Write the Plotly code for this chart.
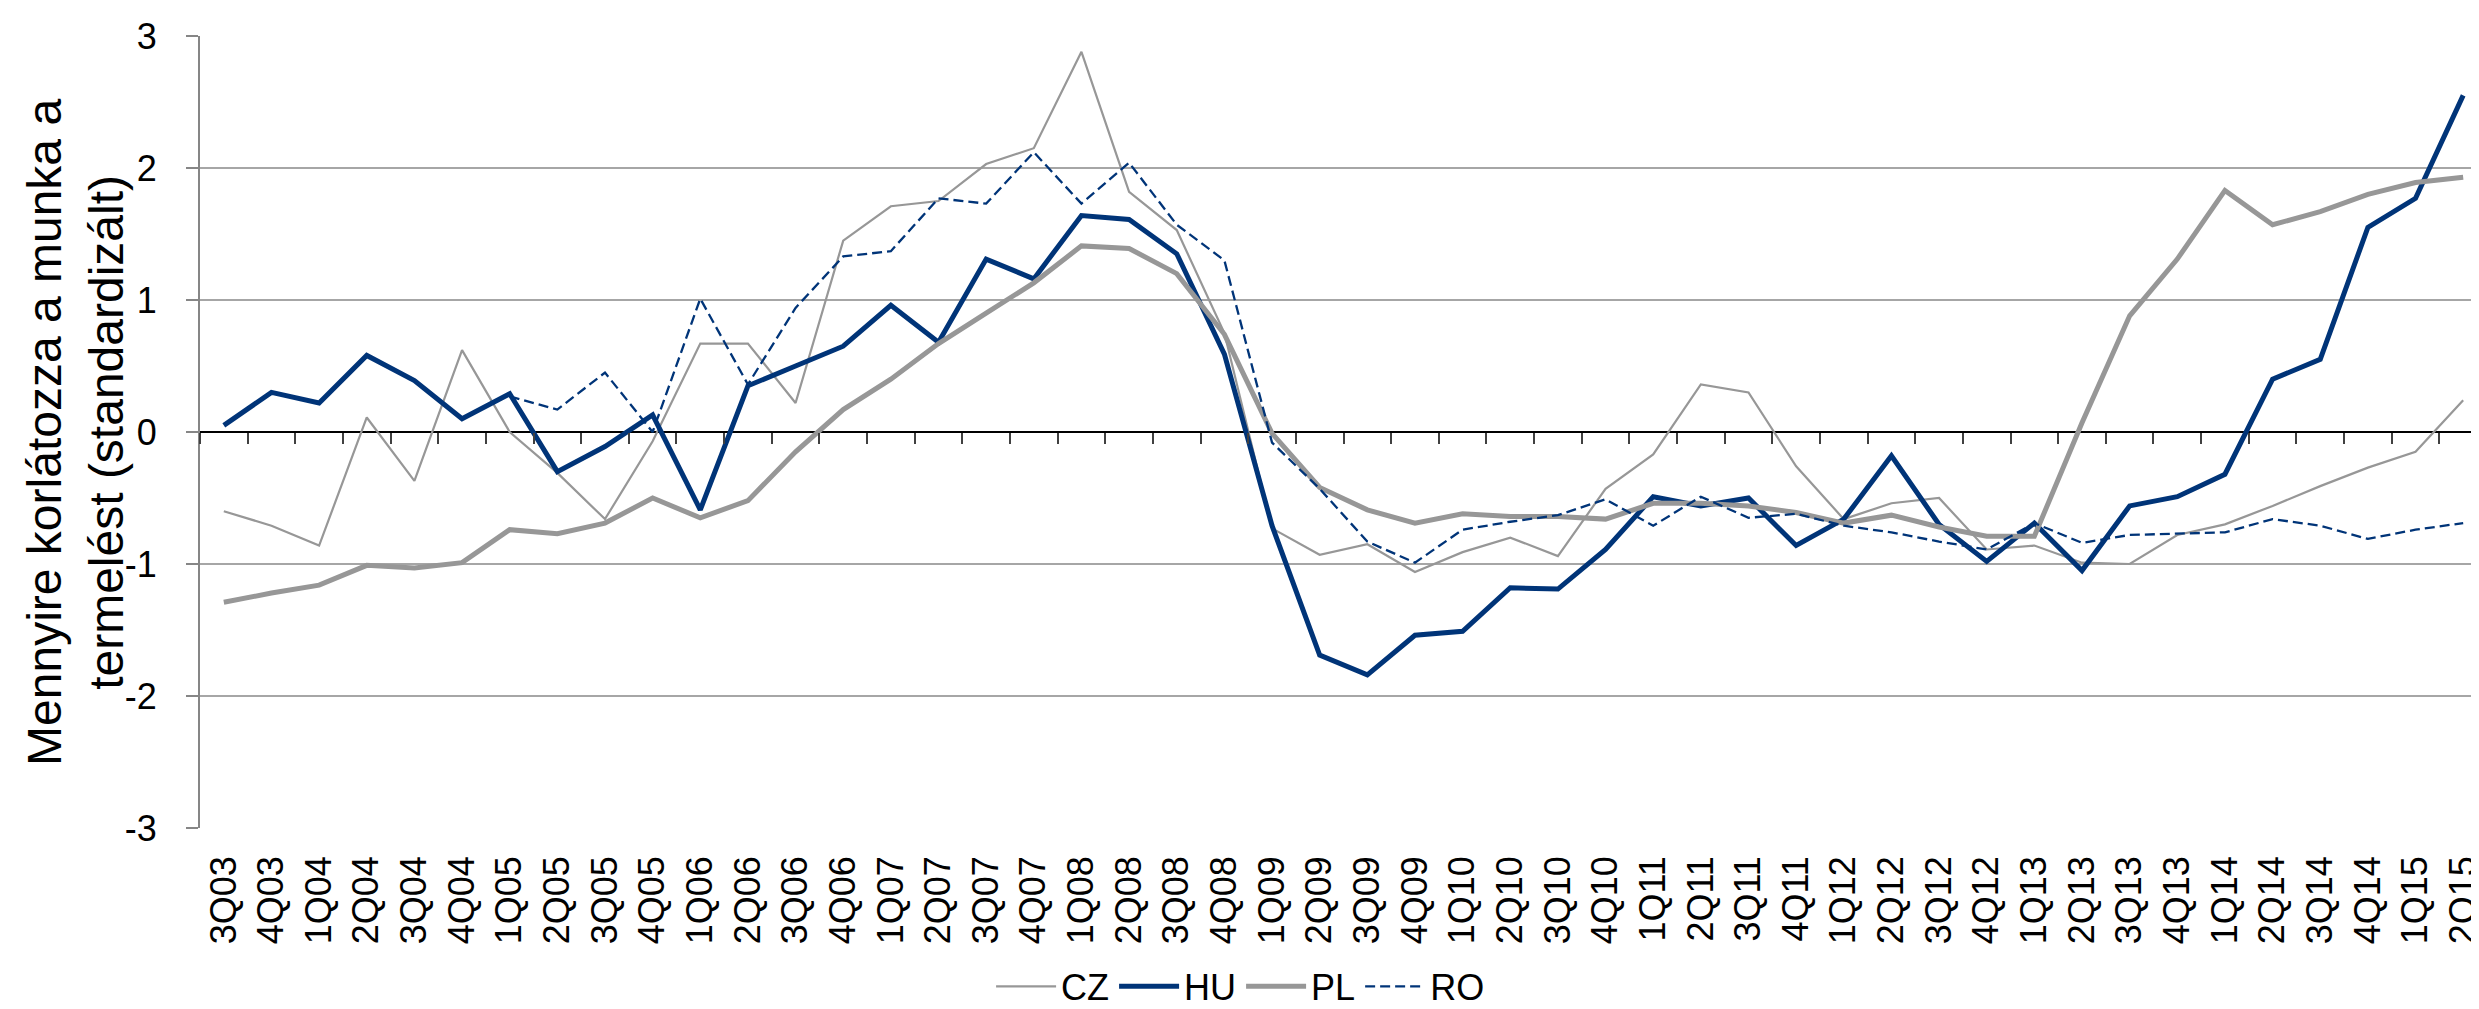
import plotly.graph_objects as go

quarters = ['3Q03', '4Q03',
            '1Q04', '2Q04', '3Q04', '4Q04',
            '1Q05', '2Q05', '3Q05', '4Q05',
            '1Q06', '2Q06', '3Q06', '4Q06',
            '1Q07', '2Q07', '3Q07', '4Q07',
            '1Q08', '2Q08', '3Q08', '4Q08',
            '1Q09', '2Q09', '3Q09', '4Q09',
            '1Q10', '2Q10', '3Q10', '4Q10',
            '1Q11', '2Q11', '3Q11', '4Q11',
            '1Q12', '2Q12', '3Q12', '4Q12',
            '1Q13', '2Q13', '3Q13', '4Q13',
            '1Q14', '2Q14', '3Q14', '4Q14',
            '1Q15', '2Q15']

cz = [-0.60, -0.71,
      -0.86, 0.11, -0.37, 0.62,
      0.00, -0.31, -0.66, -0.07,
      0.67, 0.67, 0.22, 1.45,
      1.71, 1.75, 2.03, 2.15,
      2.88, 1.82, 1.53, 0.75,
      -0.73, -0.93, -0.85, -1.06,
      -0.91, -0.80, -0.94, -0.43,
      -0.17, 0.36, 0.30, -0.26,
      -0.66, -0.54, -0.50, -0.89,
      -0.86, -0.99, -1.00, -0.78,
      -0.70, -0.56, -0.41, -0.27,
      -0.15, 0.24]

hu = [0.05, 0.30,
      0.22, 0.58, 0.39, 0.10,
      0.29, -0.30, -0.11, 0.13,
      -0.59, 0.35, 0.50, 0.65,
      0.96, 0.68, 1.31, 1.16,
      1.64, 1.61, 1.35, 0.59,
      -0.71, -1.69, -1.84, -1.54,
      -1.51, -1.18, -1.19, -0.89,
      -0.49, -0.56, -0.50, -0.86,
      -0.66, -0.18, -0.70, -0.98,
      -0.69, -1.05, -0.56, -0.49,
      -0.32, 0.40, 0.55, 1.55,
      1.77, 2.55]

pl = [-1.29, -1.22,
      -1.16, -1.01, -1.03, -0.99,
      -0.74, -0.77, -0.69, -0.50,
      -0.65, -0.52, -0.15, 0.17,
      0.40, 0.67, 0.90, 1.13,
      1.41, 1.39, 1.20, 0.74,
      -0.01, -0.42, -0.59, -0.69,
      -0.62, -0.64, -0.64, -0.66,
      -0.54, -0.54, -0.56, -0.61,
      -0.69, -0.63, -0.72, -0.79,
      -0.79, 0.07, 0.88, 1.31,
      1.83, 1.57, 1.67, 1.80,
      1.89, 1.93]

ro = [None, None,
      None, None, None, None,
      0.27, 0.17, 0.45, 0.00,
      1.01, 0.36, 0.94, 1.33,
      1.37, 1.77, 1.73, 2.12,
      1.73, 2.04, 1.57, 1.30,
      -0.08, -0.43, -0.83, -0.99,
      -0.74, -0.68, -0.63, -0.51,
      -0.71, -0.49, -0.65, -0.62,
      -0.71, -0.76, -0.83, -0.89,
      -0.69, -0.84, -0.78, -0.77,
      -0.76, -0.66, -0.71, -0.81,
      -0.74, -0.69]

y_ticks = [-3, -2, -1, 0, 1, 2, 3]
y_tick_text = ['-3', '-2', '-1', '0', '1', '2', '3']

y_title = 'Mennyire korlátozza a munka a<br>termelést (standardizált)'

navy = '#003478'
grey = '#979797'
font_family = 'Liberation Sans, Arial, sans-serif'

fig = go.Figure()
fig.add_trace(go.Scatter(x=quarters, y=cz, name='CZ', mode='lines',
                         line=dict(color=grey, width=2.2)))
fig.add_trace(go.Scatter(x=quarters, y=hu, name='HU', mode='lines',
                         line=dict(color=navy, width=5)))
fig.add_trace(go.Scatter(x=quarters, y=pl, name='PL', mode='lines',
                         line=dict(color=grey, width=5)))
# RO sits on the overlay axis, which carries the tick marks under the zero line
fig.add_trace(go.Scatter(x=quarters, y=ro, name='RO', mode='lines',
                         xaxis='x2',
                         line=dict(color=navy, width=2.3, dash='10px,5px')))

cat_range = [-0.5, len(quarters) - 0.5]

fig.update_layout(
    width=2479,
    height=1009,
    margin=dict(l=192, r=0, t=28, b=177),
    paper_bgcolor='white',
    plot_bgcolor='white',
    font=dict(family=font_family, size=36, color='black'),
    showlegend=True,
    legend=dict(
        orientation='h',
        x=0.455, xanchor='center',
        y=-0.2, yanchor='middle',
        font=dict(size=36),
        bgcolor='rgba(0,0,0,0)',
        itemwidth=60,
    ),
    xaxis=dict(
        type='category',
        categoryorder='array',
        categoryarray=quarters,
        range=cat_range,
        tickangle=-90,
        showgrid=False,
        showline=False,
        zeroline=False,
        ticks='',
        ticklabelstandoff=20,
        tickfont=dict(size=36, color='black'),
    ),
    xaxis2=dict(
        overlaying='x',
        anchor='free',
        position=0.5,
        side='bottom',
        type='category',
        categoryorder='array',
        categoryarray=quarters,
        range=cat_range,
        tickson='boundaries',
        ticks='outside',
        ticklen=11,
        tickwidth=1.8,
        tickcolor='#404040',
        showticklabels=False,
        showgrid=False,
        showline=False,
        zeroline=False,
    ),
    yaxis=dict(
        range=[-3, 3],
        tickvals=y_ticks,
        ticktext=y_tick_text,
        showgrid=True,
        gridcolor='#a6a6a6',
        gridwidth=1.5,
        zeroline=True,
        zerolinecolor='black',
        zerolinewidth=1.5,
        showline=True,
        linecolor='#868686',
        linewidth=2,
        ticks='outside',
        ticklen=12,
        tickwidth=1.5,
        tickcolor='#868686',
        ticklabelstandoff=22,
        tickfont=dict(size=36, color='black'),
    ),
    annotations=[dict(
        text=y_title,
        xref='paper', yref='paper',
        x=-0.0547, y=0.5,
        xanchor='center', yanchor='middle',
        textangle=-90,
        showarrow=False,
        font=dict(size=48, color='black'),
    )],
)

fig.write_html('out.html')
